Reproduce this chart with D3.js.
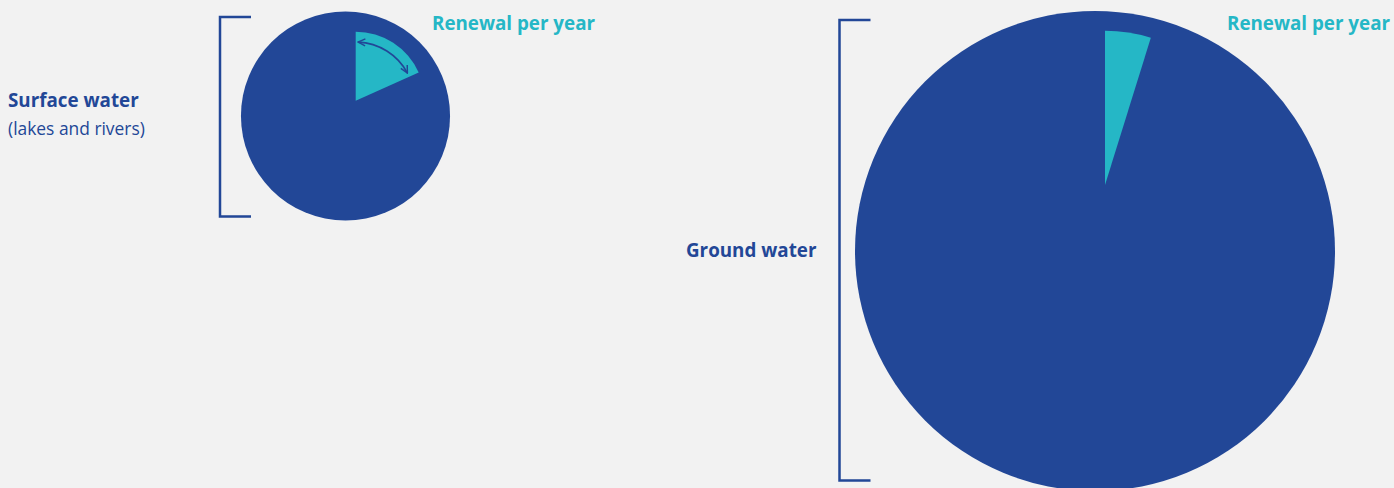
<!DOCTYPE html>
<html>
<head>
<meta charset="utf-8">
<script src="https://cdn.jsdelivr.net/npm/d3@7"></script>
<style>
  body { margin: 0; background: #f2f2f2; }
  text { font-family: "Open Sans", sans-serif; }
</style>
</head>
<body>
<script>
// water bodies, relative total volume, share renewed per year
var categories = ["Surface water", "Ground water"];
var subtitles = ["(lakes and rivers)", ""];
var totalVolume = [1, 5.27];
var renewalShare = [0.183, 0.048];
var renewalLabel = "Renewal per year";

var width = 1394, height = 488;
var dark = "#224797", teal = "#25b7c6";

// layout for each pie
var layout = [
  { cx: 345.5, cy: 116, wedgeDx: 10.2, wedgeDy: -15.3, wedgeK: 0.66,
    bracketX: 220, bracketTop: 17, bracketBot: 216.5,
    labelX: 8, labelY: 107, renewX: 432, renewY: 30, arrow: true },
  { cx: 1095, cy: 251, wedgeDx: 10, wedgeDy: -66, wedgeK: 0.643,
    bracketX: 839.5, bracketTop: 20, bracketBot: 480.5,
    labelX: 686, labelY: 257, renewX: 1227, renewY: 30, arrow: false }
];

var svg = d3.select("body").append("svg")
    .attr("width", width)
    .attr("height", height);

var defs = svg.append("defs");
defs.append("marker")
    .attr("id", "head")
    .attr("viewBox", "0 0 10 10")
    .attr("refX", 9).attr("refY", 5)
    .attr("markerWidth", 9).attr("markerHeight", 9)
    .attr("markerUnits", "userSpaceOnUse")
    .attr("orient", "auto-start-reverse")
  .append("path")
    .attr("d", "M1,1 L9,5 L1,9")
    .attr("fill", "none")
    .attr("stroke", dark)
    .attr("stroke-width", 1.6);

var r = d3.scaleSqrt().domain([0, d3.max(totalVolume)]).range([0, 240]);
var arc = d3.arc().innerRadius(0);

function arcLine(rad, a0, a1) {
  var p = d3.path();
  p.arc(0, 0, rad, a0 - Math.PI / 2, a1 - Math.PI / 2);
  return p.toString();
}

categories.forEach(function(name, i) {
  var L = layout[i];
  var R = r(totalVolume[i]);
  var g = svg.append("g").attr("transform", "translate(" + L.cx + "," + L.cy + ")");

  // whole volume
  g.append("path")
    .attr("d", arc({ outerRadius: R, startAngle: 0, endAngle: 2 * Math.PI }))
    .attr("fill", dark);

  // renewed slice
  var wr = R * L.wedgeK;
  var end = renewalShare[i] * 2 * Math.PI;
  var w = g.append("g").attr("transform", "translate(" + L.wedgeDx + "," + L.wedgeDy + ")");
  w.append("path")
    .attr("d", arc({ outerRadius: wr, startAngle: 0, endAngle: end }))
    .attr("fill", teal);

  if (L.arrow) {
    w.append("path")
      .attr("d", arcLine(wr * 0.85, 0.04, end - 0.07))
      .attr("fill", "none")
      .attr("stroke", dark)
      .attr("stroke-width", 1.6)
      .attr("marker-start", "url(#head)")
      .attr("marker-end", "url(#head)");
  }

  // bracket
  var bx = L.bracketX;
  svg.append("path")
    .attr("d", "M" + (bx + 31) + "," + L.bracketTop + "H" + bx + "V" + L.bracketBot + "H" + (bx + 31))
    .attr("fill", "none")
    .attr("stroke", dark)
    .attr("stroke-width", 2.5);

  svg.append("text")
    .attr("x", L.labelX).attr("y", L.labelY)
    .attr("fill", dark)
    .attr("font-weight", 700)
    .attr("font-size", 18.8)
    .text(name);

  if (subtitles[i]) {
    svg.append("text")
      .attr("x", L.labelX).attr("y", L.labelY + 28)
      .attr("fill", dark)
      .attr("font-size", 17.4)
      .text(subtitles[i]);
  }

  svg.append("text")
    .attr("x", L.renewX).attr("y", L.renewY)
    .attr("fill", teal)
    .attr("font-weight", 700)
    .attr("font-size", 18.8)
    .text(renewalLabel);
});
</script>
</body>
</html>
